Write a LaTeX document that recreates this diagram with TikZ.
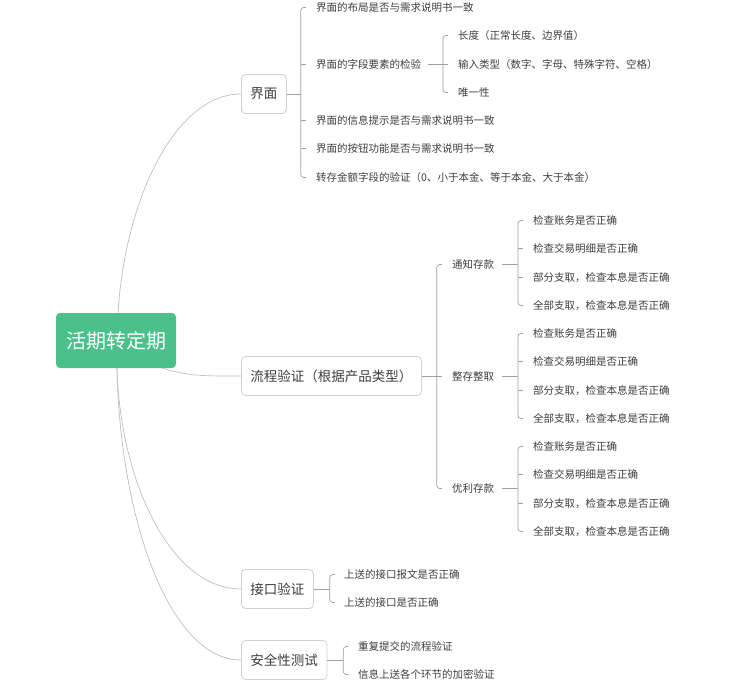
\documentclass[tikz,border=0pt]{standalone}
\usepackage{fontspec}
\newfontfamily\cjk{Noto Sans CJK SC}
\usetikzlibrary{calc}
\definecolor{rootgreen}{RGB}{76,192,138}
\definecolor{txt}{RGB}{62,62,62}
\definecolor{boxline}{RGB}{208,208,208}
\definecolor{lnk}{RGB}{160,160,160}
\definecolor{crv}{RGB}{190,190,190}
\begin{document}
\begin{tikzpicture}[x=1pt,y=-1pt,
  rootnode/.style={fill=rootgreen, rounded corners=4pt, minimum width=120pt, minimum height=55pt,
    text=white, font=\cjk\fontsize{20}{24}\selectfont, inner sep=0pt},
  topic/.style={draw=boxline, line width=0.8pt, rounded corners=4pt, minimum height=39pt,
    inner xsep=9pt, inner ysep=0pt, anchor=west, text=txt, fill=white,
    font=\cjk\fontsize{13.5}{16}\selectfont},
  leaf/.style={anchor=west, inner sep=0pt, text=txt, font=\cjk\fontsize{10.5}{12}\selectfont},
  curve/.style={draw=crv, line width=0.7pt},
  conn/.style={draw=lnk, line width=0.7pt},
  brk/.style={conn, rounded corners=3pt}]
\useasboundingbox (0,0) rectangle (739,687);

% root and topics
\node[rootnode] (root) at (116,340.5) {活期转定期};
\node[topic] (jm) at (241,94) {界面};
\node[topic] (lc) at (241,376) {流程验证（根据产品类型）};
\node[topic] (jk) at (241,589) {接口验证};
\node[topic] (aq) at (241,660) {安全性测试};

% curves from root
\draw[curve] ([xshift=2pt]root.north) .. controls +(7,-113) and +(-66,0) .. (jm.west);
\draw[curve] ([xshift=-14pt]root.south east) .. controls +(28,8) and +(-41,0) .. (lc.west);
\draw[curve] ([xshift=1pt]root.south) .. controls +(3,112) and +(-71,0) .. (jk.west);
\draw[curve] ([xshift=1pt]root.south) .. controls +(3,152) and +(-71,0) .. (aq.west);

% 界面 children
\node[leaf] (j1) at (316,7.5) {界面的布局是否与需求说明书一致};
\node[leaf] (j2) at (316,64.5) {界面的字段要素的检验};
\node[leaf] (j3) at (316,120.5) {界面的信息提示是否与需求说明书一致};
\node[leaf] (j4) at (316,148.5) {界面的按钮功能是否与需求说明书一致};
\node[leaf] (j5) at (316,177.5) {转存金额字段的验证（0、小于本金、等于本金、大于本金）};
\coordinate (jmB) at ([xshift=14pt]jm.east);
\draw[conn] (jm.east) -- (jmB);
\draw[brk] ([xshift=5pt]jmB |- j1.west) -- (jmB |- j1.west) -- (jmB |- j5.west) -- ([xshift=5pt]jmB |- j5.west);
\foreach \c in {j2,j3,j4} \draw[conn] (jmB |- \c.west) -- ([xshift=5pt]jmB |- \c.west);

% 字段要素 children
\node[leaf] (k1) at (458,35.5) {长度（正常长度、边界值）};
\node[leaf] (k2) at (458,64.5) {输入类型（数字、字母、特殊字符、空格）};
\node[leaf] (k3) at (458,92.5) {唯一性};
\coordinate (j2B) at (443,64.5);
\draw[conn] ([xshift=7pt]j2.east) -- (j2B);
\draw[brk] ([xshift=5pt]j2B |- k1.west) -- (j2B |- k1.west) -- (j2B |- k3.west) -- ([xshift=5pt]j2B |- k3.west);
\draw[conn] (j2B |- k2.west) -- ([xshift=5pt]j2B |- k2.west);

% 流程验证 children
\node[leaf] (t1) at (452,264.5) {通知存款};
\node[leaf] (t2) at (452,376.5) {整存整取};
\node[leaf] (t3) at (452,488.5) {优利存款};
\coordinate (lcB) at ([xshift=15pt]lc.east);
\draw[conn] (lc.east) -- (lcB);
\draw[brk] ([xshift=5pt]lcB |- t1.west) -- (lcB |- t1.west) -- (lcB |- t3.west) -- ([xshift=5pt]lcB |- t3.west);
\draw[conn] (lcB |- t2.west) -- ([xshift=5pt]lcB |- t2.west);

\foreach \g/\ya/\yb/\yc/\yd in {t1/220.5/248.5/277.5/305.5, t2/333.5/361.5/390.5/418.5, t3/446.5/474.5/503.5/531.5}{
  \node[leaf] (\g a) at (533,\ya) {检查账务是否正确};
  \node[leaf] (\g b) at (533,\yb) {检查交易明细是否正确};
  \node[leaf] (\g c) at (533,\yc) {部分支取，检查本息是否正确};
  \node[leaf] (\g d) at (533,\yd) {全部支取，检查本息是否正确};
  \coordinate (\g B) at (518,0);
  \draw[conn] ([xshift=8pt]\g.east) -- (\g B |- \g.east);
  \draw[brk] ([xshift=5pt]\g B |- \g a.west) -- (\g B |- \g a.west) -- (\g B |- \g d.west) -- ([xshift=5pt]\g B |- \g d.west);
  \draw[conn] (\g B |- \g b.west) -- ([xshift=5pt]\g B |- \g b.west);
  \draw[conn] (\g B |- \g c.west) -- ([xshift=5pt]\g B |- \g c.west);
}

% 接口验证 children
\node[leaf] (i1) at (344,574.5) {上送的接口报文是否正确};
\node[leaf] (i2) at (344,602.5) {上送的接口是否正确};
\coordinate (jkB) at ([xshift=16pt]jk.east);
\draw[conn] (jk.east) -- (jkB);
\draw[brk] ([xshift=5pt]jkB |- i1.west) -- (jkB |- i1.west) -- (jkB |- i2.west) -- ([xshift=5pt]jkB |- i2.west);

% 安全性测试 children
\node[leaf] (s1) at (358,646.5) {重复提交的流程验证};
\node[leaf] (s2) at (358,674.5) {信息上送各个环节的加密验证};
\coordinate (aqB) at ([xshift=16pt]aq.east);
\draw[conn] (aq.east) -- (aqB);
\draw[brk] ([xshift=5pt]aqB |- s1.west) -- (aqB |- s1.west) -- (aqB |- s2.west) -- ([xshift=5pt]aqB |- s2.west);
\end{tikzpicture}
\end{document}
